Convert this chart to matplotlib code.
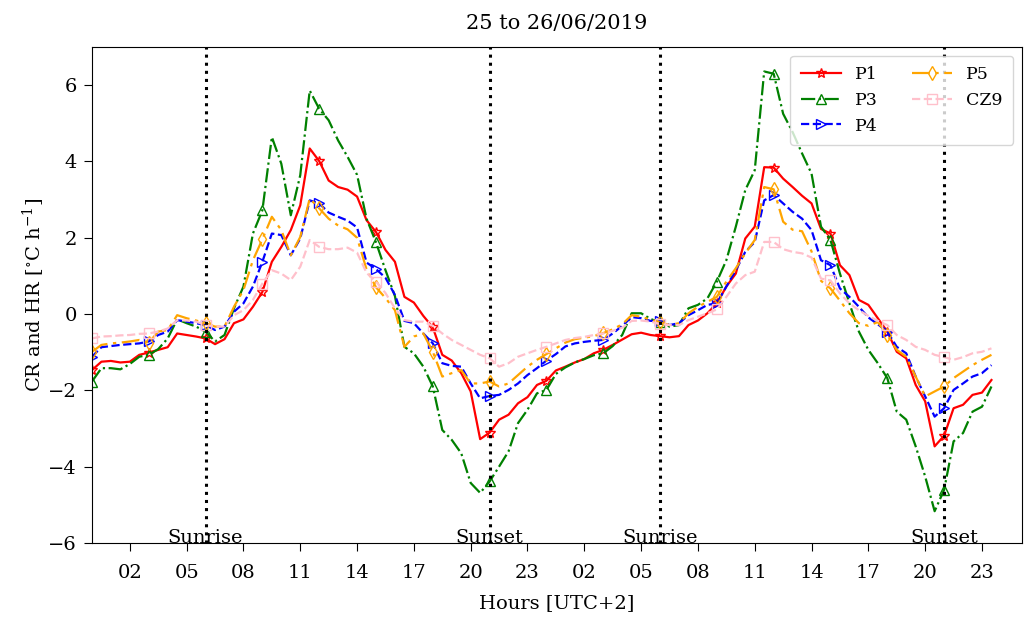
import numpy as np
import matplotlib
matplotlib.use("Agg")
import matplotlib.pyplot as plt

plt.rcParams['font.family'] = ['DejaVu Serif']
plt.rcParams['mathtext.fontset'] = 'dejavuserif'

# half-hourly values, 25/06 00:00 to 26/06 23:30
hours = np.arange(0, 48, 0.5)

p1 = [-1.47, -1.25, -1.23, -1.27, -1.25, -1.07, -1.01, -0.94, -0.87, -0.51, -0.55, -0.59,
      -0.64, -0.79, -0.66, -0.24, -0.14, 0.19, 0.58, 1.37, 1.76, 2.2, 2.85, 4.34,
      4.01, 3.5, 3.33, 3.26, 3.08, 2.46, 2.15, 1.68, 1.37, 0.45, 0.3, -0.05,
      -0.35, -1.07, -1.22, -1.55, -2.03, -3.28, -3.11, -2.77, -2.64, -2.34, -2.18, -1.86,
      -1.75, -1.48, -1.38, -1.27, -1.18, -1.03, -0.94, -0.81, -0.67, -0.53, -0.49, -0.55,
      -0.58, -0.61, -0.58, -0.29, -0.17, 0.02, 0.28, 0.72, 1.06, 1.98, 2.29, 3.85,
      3.84, 3.55, 3.33, 3.1, 2.9, 2.23, 2.11, 1.28, 1.02, 0.37, 0.24, -0.11,
      -0.46, -0.99, -1.16, -1.86, -2.29, -3.47, -3.19, -2.47, -2.38, -2.12, -2.06, -1.73]

p3 = [-1.77, -1.42, -1.42, -1.45, -1.31, -1.12, -1.07, -0.92, -0.64, -0.14, -0.24, -0.33,
      -0.46, -0.72, -0.55, 0.15, 0.72, 2.11, 2.72, 4.64, 3.94, 2.59, 3.64, 5.86,
      5.38, 5.08, 4.55, 4.12, 3.65, 2.5, 1.88, 1.15, 0.47, -0.86, -1.03, -1.38,
      -1.9, -3.04, -3.3, -3.65, -4.43, -4.69, -4.39, -4.0, -3.6, -2.86, -2.51, -2.08,
      -1.99, -1.57, -1.4, -1.27, -1.18, -1.08, -1.03, -0.84, -0.55, 0.02, 0.02, -0.13,
      -0.22, -0.33, -0.29, 0.15, 0.24, 0.41, 0.85, 1.41, 2.29, 3.25, 3.77, 6.36,
      6.3, 5.25, 4.77, 4.21, 3.68, 2.29, 1.94, 1.06, 0.28, -0.46, -0.94, -1.29,
      -1.68, -2.56, -2.77, -3.47, -4.26, -5.17, -4.61, -3.34, -3.12, -2.56, -2.43, -1.9]

p4 = [-1.12, -0.87, -0.84, -0.81, -0.79, -0.77, -0.72, -0.55, -0.46, -0.16, -0.2, -0.24,
      -0.29, -0.42, -0.33, 0.06, 0.28, 0.72, 1.37, 2.11, 2.07, 1.54, 1.98, 2.98,
      2.9, 2.66, 2.55, 2.45, 2.27, 1.35, 1.18, 0.95, 0.5, -0.18, -0.24, -0.51,
      -0.77, -1.29, -1.36, -1.38, -1.82, -2.21, -2.15, -2.12, -1.99, -1.82, -1.6, -1.42,
      -1.22, -1.05, -0.85, -0.77, -0.73, -0.7, -0.68, -0.51, -0.31, -0.08, -0.11, -0.18,
      -0.18, -0.29, -0.24, -0.03, 0.1, 0.24, 0.28, 0.72, 1.15, 1.63, 1.89, 2.98,
      3.12, 2.9, 2.68, 2.5, 2.2, 1.41, 1.28, 0.67, 0.45, 0.19, -0.09, -0.27,
      -0.46, -0.86, -1.03, -1.64, -2.16, -2.69, -2.47, -1.99, -1.82, -1.64, -1.55, -1.34]

p5 = [-0.99, -0.81, -0.77, -0.75, -0.72, -0.68, -0.75, -0.46, -0.42, -0.03, -0.11, -0.17,
      -0.24, -0.33, -0.33, 0.19, 0.63, 1.41, 1.96, 2.55, 2.2, 1.54, 2.02, 3.03,
      2.77, 2.5, 2.32, 2.22, 2.0, 1.17, 0.7, 0.42, 0.1, -0.86, -0.59, -0.51,
      -0.99, -1.64, -1.55, -1.47, -1.82, -1.82, -1.77, -1.9, -1.82, -1.6, -1.38, -1.2,
      -1.05, -0.9, -0.75, -0.66, -0.62, -0.58, -0.5, -0.4, -0.27, -0.03, -0.07, -0.15,
      -0.22, -0.29, -0.24, 0.02, 0.19, 0.32, 0.45, 0.85, 1.2, 1.59, 1.94, 3.33,
      3.27, 2.42, 2.21, 2.17, 1.64, 0.87, 0.67, 0.35, 0.02, -0.24, -0.31, -0.21,
      -0.55, -0.94, -1.12, -1.64, -2.16, -2.03, -1.9, -1.68, -1.51, -1.34, -1.2, -1.07]

cz9 = [-0.64, -0.59, -0.58, -0.56, -0.55, -0.52, -0.51, -0.46, -0.38, -0.16, -0.17, -0.2,
       -0.29, -0.33, -0.33, -0.03, 0.1, 0.37, 0.8, 1.15, 1.06, 0.89, 1.24, 1.94,
       1.76, 1.7, 1.7, 1.74, 1.61, 1.08, 0.85, 0.55, 0.15, -0.16, -0.2, -0.2,
       -0.31, -0.51, -0.68, -0.81, -0.94, -1.07, -1.16, -1.38, -1.29, -1.12, -1.03, -0.94,
       -0.86, -0.77, -0.68, -0.63, -0.6, -0.55, -0.51, -0.44, -0.36, -0.18, -0.17, -0.2,
       -0.26, -0.29, -0.29, -0.16, -0.07, 0.02, 0.12, 0.45, 0.8, 1.02, 1.11, 1.89,
       1.89, 1.7, 1.63, 1.59, 1.48, 0.93, 0.88, 0.54, 0.28, 0.1, -0.05, -0.18,
       -0.29, -0.55, -0.68, -0.86, -0.94, -1.07, -1.13, -1.2, -1.13, -1.03, -0.99, -0.9]

sunrise = [6, 30]
sunset = [21, 45]
tick_pos = np.arange(2, 48, 3)
tick_labels = ['%02d' % (h % 24) for h in tick_pos]

fig = plt.figure(figsize=(10.24, 6.19), dpi=100)
ax = fig.add_axes([0.0898, 0.123, 0.908, 0.801])

ax.plot(hours, p1, color='red', ls='-', lw=1.6, marker='*', ms=7,
        mfc='none', markevery=6, label='P1')
ax.plot(hours, p3, color='green', ls='-.', lw=1.6, marker='^', ms=7,
        mfc='none', markevery=6, label='P3')
ax.plot(hours, p4, color='blue', ls='--', lw=1.6, marker='>', ms=7,
        mfc='none', markevery=6, label='P4')
ax.plot(hours, p5, color='orange', ls=(0, (8, 2.5, 1.5, 2.5)), lw=1.6, marker='d', ms=7,
        mfc='none', markevery=6, label='P5')
ax.plot(hours, cz9, color='pink', ls='--', lw=1.6, marker='s', ms=7,
        mfc='none', markevery=6, label='CZ9')

for x in sunrise:
    ax.axvline(x, color='black', ls=':', lw=2.2)
    ax.text(x, -6, 'Sunrise', ha='center', va='baseline', fontsize=14)
for x in sunset:
    ax.axvline(x, color='black', ls=':', lw=2.2)
    ax.text(x, -6, 'Sunset', ha='center', va='baseline', fontsize=14)

ax.set_xlim(0, 49.1)
ax.set_ylim(-6, 7)
ax.set_xticks(tick_pos)
ax.set_xticklabels(tick_labels)
ax.set_yticks([-6, -4, -2, 0, 2, 4, 6])
ax.tick_params(labelsize=14, length=6)
ax.tick_params(axis='x', pad=9)
ax.tick_params(axis='y', pad=5)
ax.set_xlabel('Hours [UTC+2]', fontsize=14, labelpad=9)
ax.set_ylabel(r'CR and HR [$^{\circ}$C h$^{-1}$]', fontsize=14, labelpad=1)
ax.set_title('25 to 26/06/2019', fontsize=15, pad=13)
ax.legend(loc='upper right', ncol=2, fontsize=12.5, handlelength=2.3, borderpad=0.6)

plt.savefig('out.png', dpi=100)
